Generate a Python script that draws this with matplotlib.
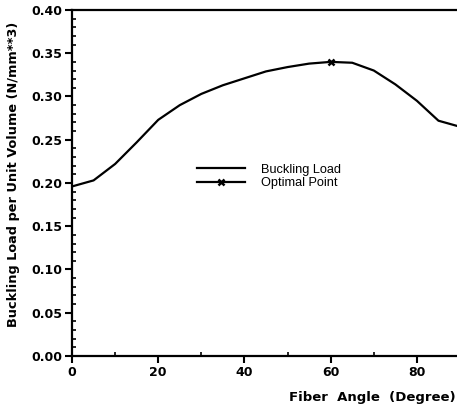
import numpy as np
import matplotlib.pyplot as plt
from matplotlib.ticker import MultipleLocator, FormatStrFormatter

# fiber angle (deg) vs buckling load per unit volume
angle = [0, 5, 10, 15, 20, 25, 30, 35, 40, 45, 50, 55, 60, 65, 70, 75, 80, 85, 90]
load = [0.196, 0.203, 0.222, 0.247, 0.273, 0.290, 0.303, 0.313, 0.321, 0.329,
        0.334, 0.338, 0.340, 0.339, 0.330, 0.314, 0.295, 0.272, 0.265]
opt_angle = [60]
opt_load = [0.340]

plt.rcParams['font.family'] = ['DejaVu Sans']

fig = plt.figure(figsize=(4.57, 4.09), dpi=100)
ax = fig.add_axes([0.1576, 0.1296, 0.849, 0.846])

ax.plot(angle, load, color='black', lw=1.6, label='Buckling Load')
ax.plot(opt_angle, opt_load, color='black', lw=1.6, marker='x', ms=5, mew=1.8,
        label='Optimal Point')

ax.set_xlim(0, 90)
ax.set_ylim(0, 0.40)
ax.xaxis.set_major_locator(MultipleLocator(20))
ax.xaxis.set_minor_locator(MultipleLocator(10))
ax.yaxis.set_major_locator(MultipleLocator(0.05))
ax.yaxis.set_minor_locator(MultipleLocator(0.01))
ax.yaxis.set_major_formatter(FormatStrFormatter('%.2f'))

for s in ['left', 'bottom', 'top']:
    ax.spines[s].set_linewidth(1.6)
ax.spines['right'].set_visible(False)

ax.tick_params(which='major', direction='out', length=5, width=1.5,
               labelsize=9, pad=2)
ax.tick_params(which='minor', direction='in', length=3, width=1.2)
for lab in ax.get_xticklabels() + ax.get_yticklabels():
    lab.set_fontweight('bold')

ax.set_ylabel('Buckling Load per Unit Volume (N/mm**3)', fontsize=9.3,
              fontweight='bold')
ax.yaxis.set_label_coords(-0.133, 0.525)
fig.text(0.998, 0.027, 'Fiber  Angle  (Degree)', ha='right', va='center',
         fontsize=9.5, fontweight='bold')

ax.legend(loc='center left', bbox_to_anchor=(0.322, 0.519), frameon=False,
          prop={'family': 'Liberation Sans', 'size': 9.2},
          borderpad=0, borderaxespad=0,
          handlelength=3.75, handletextpad=1.3, labelspacing=0.12)

fig.savefig('out.png', dpi=100)
